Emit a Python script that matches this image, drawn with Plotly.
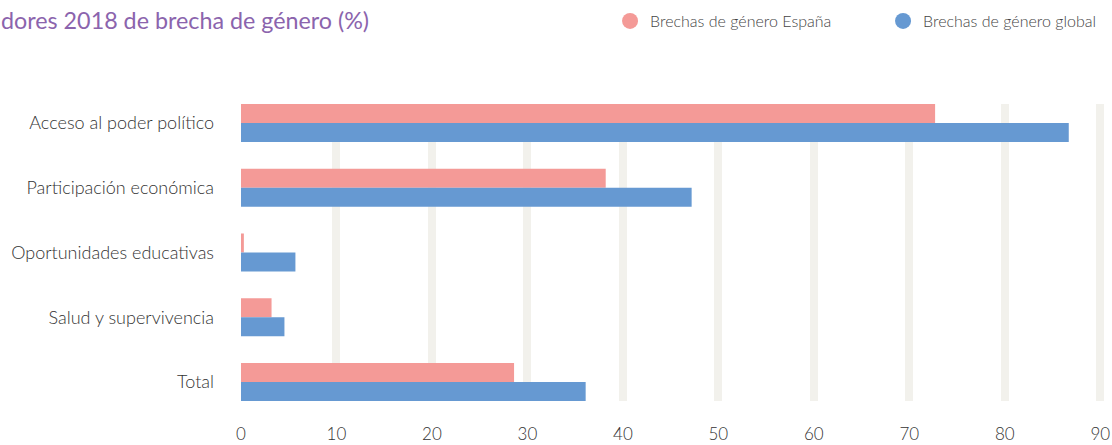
import plotly.graph_objects as go

categories = ["Acceso al poder político", "Participación económica",
              "Oportunidades educativas", "Salud y supervivencia", "Total"]
espana = [72.7, 38.2, 0.3, 3.2, 28.6]
global_ = [86.7, 47.2, 5.7, 4.55, 36.1]
series_names = ["Brechas de género España", "Brechas de género global"]
colors = ["#f49a97", "#6699d2"]
xticks = [0, 10, 20, 30, 40, 50, 60, 70, 80, 90]
title_text = "dores 2018 de brecha de género (%)"

fig = go.Figure()
for name, vals, col in zip(series_names, [espana, global_], colors):
    fig.add_trace(go.Bar(y=categories, x=vals, orientation="h", name=name,
                         marker=dict(color=col, line=dict(width=0)),
                         showlegend=False, hoverinfo="x+y"))
for name, col in zip(series_names, colors):
    fig.add_trace(go.Scatter(x=[None], y=[None], mode="markers", name=name,
                             marker=dict(color=col, size=20, symbol="circle"),
                             showlegend=True))

fig.update_layout(
    width=1112, height=445,
    margin=dict(l=241, r=6, t=104, b=44, autoexpand=False),
    paper_bgcolor="white", plot_bgcolor="white",
    font=dict(family="Lato", color="#333333"),
    barmode="group", bargap=0.413, bargroupgap=0,
    showlegend=True,
    legend=dict(orientation="h", xref="container", yref="container",
                x=0.5486, y=1 - 21/445, xanchor="left", yanchor="middle",
                font=dict(size=16, color="#444444", weight=300),
                entrywidth=228, entrywidthmode="pixels",
                itemclick=False, itemdoubleclick=False),
    annotations=[dict(text=title_text, xref="paper", yref="paper",
                      x=-242/865, y=1 + 84/297, xanchor="left", yanchor="middle",
                      showarrow=False,
                      font=dict(size=23.3, color="#8b64ad", family="Lato"))],
)
fig.update_xaxes(range=[0, 90.6], tickvals=xticks, ticktext=[str(v) for v in xticks],
                 showgrid=False, zeroline=False, showline=False, ticks="",
                 automargin=False,
                 tickfont=dict(size=17, color="#333333", weight=300), ticklabelstandoff=21,
                 minor=dict(tickvals=xticks[1:], showgrid=True, gridwidth=8,
                            gridcolor="#f2f1ec", ticks=""))
fig.update_yaxes(type="category", categoryorder="array", categoryarray=categories,
                 range=[4.293, -0.293], showgrid=False, zeroline=False,
                 showline=False, ticks="", automargin=False,
                 tickfont=dict(size=18, color="#333333", weight=300),
                 ticklabelstandoff=26)

fig.write_html("out.html", config={"displayModeBar": False},
               post_script="document.body.style.margin='0';")
